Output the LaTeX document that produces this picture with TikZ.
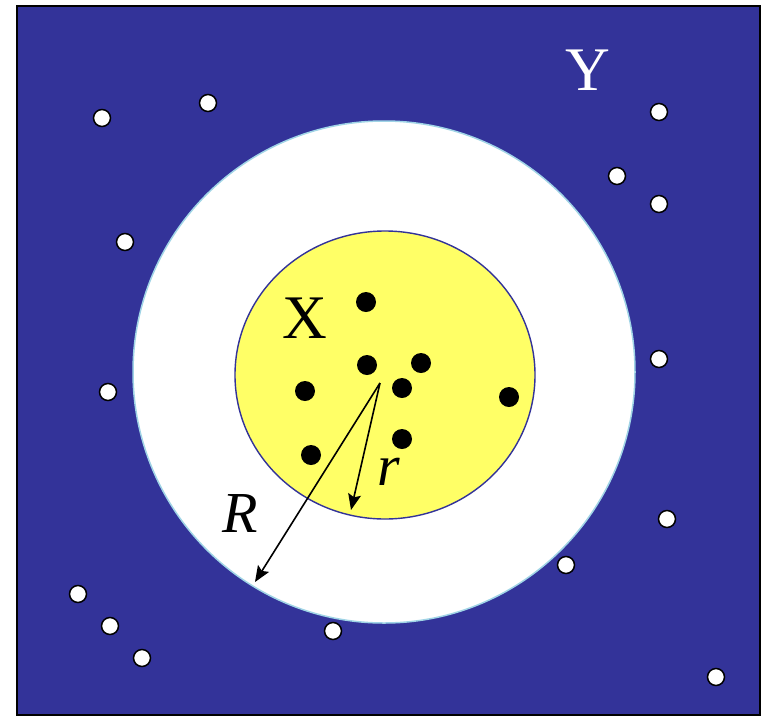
\documentclass[tikz,border=0pt]{standalone}
\usepackage{fontspec}
\setmainfont{Liberation Serif}
\usetikzlibrary{arrows.meta,shapes.geometric}
\definecolor{bgblue}{HTML}{333399}
\definecolor{ylw}{HTML}{FFFF66}
\definecolor{ringedge}{HTML}{A0D4E6}
\tikzset{
  blackdot/.style={circle,fill=black,inner sep=0pt,minimum size=20pt},
  whitedot/.style={circle,fill=white,draw=black,line width=1.5pt,inner sep=0pt,minimum size=17pt},
  radarrow/.style={line width=1.6pt,-{Stealth[length=16pt,width=13pt,inset=3pt]}},
  biglabel/.style={font=\fontsize{62}{62}\selectfont,inner sep=0pt},
  itlabel/.style={font=\fontsize{58}{58}\selectfont\itshape,inner sep=0pt}
}
\begin{document}
\begin{tikzpicture}[x=1pt,y=-1pt]
\useasboundingbox (0,0) rectangle (761,716);
\node[draw=black,line width=1.8pt,fill=bgblue,minimum width=743pt,minimum height=709pt,inner sep=0pt,anchor=north west] (frame) at (16,5) {};
\node[circle,fill=white,draw=ringedge,line width=1.5pt,minimum size=502pt,inner sep=0pt] (outer) at (384,372) {};
\node[ellipse,fill=ylw,draw=bgblue,line width=1.4pt,minimum width=300pt,minimum height=288pt,inner sep=0pt] (inner) at (385,375) {};
% black dots
\node[blackdot] (b1) at (366,302) {};
\node[blackdot] (b2) at (367,365) {};
\node[blackdot] (b3) at (421,363) {};
\node[blackdot] (b4) at (305,391) {};
\node[blackdot] (b5) at (402,388) {};
\node[blackdot] (b6) at (509,397) {};
\node[blackdot] (b7) at (311,455) {};
\node[blackdot] (b8) at (402,439) {};
% white dots
\node[whitedot] (w1) at (102,118) {};
\node[whitedot] (w2) at (208,103) {};
\node[whitedot] (w3) at (659,112) {};
\node[whitedot] (w4) at (617,176) {};
\node[whitedot] (w5) at (659,204) {};
\node[whitedot] (w6) at (125,242) {};
\node[whitedot] (w7) at (108,392) {};
\node[whitedot] (w8) at (659,359) {};
\node[whitedot] (w9) at (667,519) {};
\node[whitedot] (w10) at (566,565) {};
\node[whitedot] (w11) at (78,594) {};
\node[whitedot] (w12) at (110,626) {};
\node[whitedot] (w13) at (142,658) {};
\node[whitedot] (w14) at (333,631) {};
\node[whitedot] (w15) at (716,677) {};
% arrows
\coordinate (c) at (380,383);
\coordinate (rend) at (351,510);
\coordinate (Rend) at (255,582);
\draw[radarrow] (c) -- (rend);
\draw[radarrow] (c) -- (Rend);
% labels
\node[biglabel,text=white] (Y) at (588,70) {Y};
\node[biglabel] (X) at (305,318) {X};
\node[itlabel] (R) at (240,514) {R};
\node[itlabel] (r) at (389,472) {r};
\end{tikzpicture}
\end{document}
